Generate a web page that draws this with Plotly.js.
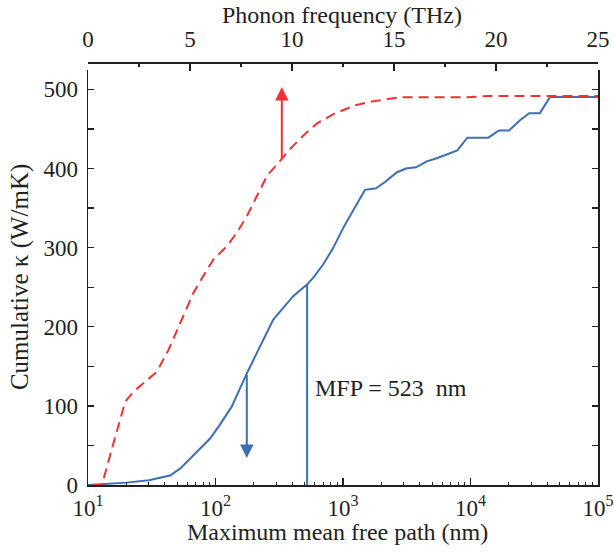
<!DOCTYPE html>
<html>
<head>
<meta charset="utf-8">
<script src="https://cdn.plot.ly/plotly-3.0.1.min.js"></script>
<style>html,body{margin:0;padding:0;background:#fff;}</style>
</head>
<body>
<div id="chart" style="width:614px;height:552px;"></div>
<script>
// Blue curve: cumulative kappa vs maximum mean free path (nm)
const mfpNm = [10, 20, 30, 44, 53, 71, 91, 108, 134, 176, 237, 284, 408, 519, 585, 701, 840, 1005, 1242, 1488, 1815, 2135, 2636, 3119, 3738, 4532, 5430, 6505, 7880, 9445, 13800, 16730, 20050, 24440, 28910, 35060, 42040, 100000];
const kappaMfp = [0, 3, 6, 12, 21, 42, 59, 76, 99, 141, 184, 209, 239, 253, 262, 279, 300, 325, 351, 373, 375, 383, 395, 400, 401.5, 409, 413, 418, 423, 439, 439, 448, 448, 461, 470, 470, 490.5, 490.5];

// Red dashed curve: cumulative kappa vs phonon frequency (THz)
const freqTHz = [0.25, 0.68, 1.24, 1.82, 2.23, 2.72, 3.37, 3.95, 4.52, 5.17, 5.83, 6.15, 6.81, 7.30, 7.79, 8.29, 8.78, 9.43, 9.92, 10.57, 11.23, 12.05, 13.1, 14.0, 15.3, 18.6, 19.6, 25];
const kappaFreq = [0, 0, 52, 105, 118, 129, 143, 171, 205, 243, 272, 285, 302, 319, 340, 365, 391, 410, 425, 442, 457, 469, 480, 485, 490, 490, 491.6, 491.6];

// Marker line at the characteristic MFP
const mfpMark = 523;
const mfpMarkKappa = [0, 254];
const mfpLabel = 'MFP = 523\u00a0 nm';
const mfpLabelKappa = 123;

// Arrows: x, tail kappa, tip kappa
const redArrow = {freq: 9.5, from: 410, to: 503};
const blueArrow = {mfp: 176, from: 141, to: 34};

// Tick labels
const mfpTickVals = [10, 100, 1000, 10000, 100000];
const mfpTickText = ['10<sup>1</sup>', '10<sup>2</sup>', '10<sup>3</sup>', '10<sup>4</sup>', '10<sup>5</sup>'];
const kappaTickVals = [0, 100, 200, 300, 400, 500];
const freqTickVals = [0, 5, 10, 15, 20, 25];

const mfpMinor = [];
for (let d = 10; d < 100000; d *= 10) { for (let k = 2; k <= 9; k++) mfpMinor.push(d * k); }

const BLUE = '#3b6fb8';
const RED = '#ee3333';
const AX = '#231f20';
const FONT = 'Liberation Serif';

const traces = [
  {x: freqTHz, y: kappaFreq, xaxis: 'x2', yaxis: 'y', mode: 'lines',
   line: {color: RED, width: 2, dash: '10px,6px'}, hoverinfo: 'skip'},
  {x: mfpNm, y: kappaMfp, xaxis: 'x', yaxis: 'y', mode: 'lines',
   line: {color: BLUE, width: 2}, hoverinfo: 'skip'},
  {x: [mfpMark, mfpMark], y: mfpMarkKappa, xaxis: 'x', yaxis: 'y', mode: 'lines',
   line: {color: BLUE, width: 2}, hoverinfo: 'skip'}
];

const yTop = 0.982;
const layout = {
  width: 614, height: 552,
  margin: {l: 88, r: 16, t: 62, b: 67, pad: 0},
  paper_bgcolor: '#ffffff', plot_bgcolor: '#ffffff',
  showlegend: false,
  font: {family: FONT, size: 23, color: AX},
  xaxis: {
    type: 'log', range: [1, 5], domain: [0, 1], anchor: 'y', side: 'bottom',
    showline: true, linecolor: AX, linewidth: 1.5, mirror: false,
    ticks: 'inside', ticklen: 7, tickwidth: 1.3, tickcolor: AX,
    tickmode: 'array', tickvals: mfpTickVals, ticktext: mfpTickText,
    tickfont: {family: FONT, size: 23, color: AX}, ticklabelstandoff: 2,
    minor: {tickmode: 'array', tickvals: mfpMinor, ticks: 'inside', ticklen: 3.5, tickwidth: 1.2, tickcolor: AX, showgrid: false},
    showgrid: false, zeroline: false
  },
  xaxis2: {
    overlaying: 'x', side: 'top', anchor: 'free', position: 1,
    range: [0, 25], tickmode: 'array', tickvals: freqTickVals,
    showline: true, linecolor: AX, linewidth: 1.5,
    ticks: 'inside', ticklen: 7, tickwidth: 1.3, tickcolor: AX,
    tickfont: {family: FONT, size: 23, color: AX}, ticklabelstandoff: 6,
    minor: {dtick: 2.5, ticks: 'inside', ticklen: 3.5, tickwidth: 1.2, tickcolor: AX, showgrid: false},
    showgrid: false, zeroline: false
  },
  yaxis: {
    range: [0, 525], domain: [0, yTop], anchor: 'x',
    showline: true, linecolor: AX, linewidth: 1.5, mirror: 'ticks',
    ticks: 'inside', ticklen: 6, tickwidth: 1.3, tickcolor: AX,
    tickmode: 'array', tickvals: kappaTickVals,
    tickfont: {family: FONT, size: 23, color: AX}, ticklabelstandoff: 4,
    minor: {dtick: 50, ticks: 'inside', ticklen: 6, tickwidth: 1.3, tickcolor: AX, showgrid: false},
    showgrid: false, zeroline: false
  },
  annotations: [
    {xref: 'paper', yref: 'paper', x: 0.49, y: -0.112, text: 'Maximum mean free path (nm)',
     showarrow: false, xanchor: 'center', yanchor: 'middle', font: {family: FONT, size: 24, color: AX}},
    {xref: 'paper', yref: 'paper', x: 0.498, y: 1.145, text: 'Phonon frequency (THz)', borderpad: 0,
     showarrow: false, xanchor: 'center', yanchor: 'top', font: {family: FONT, size: 24, color: AX}},
    {xref: 'paper', yref: 'paper', x: -0.133, y: 0.492, text: 'Cumulative \u03ba (W/mK)', textangle: -90,
     showarrow: false, xanchor: 'center', yanchor: 'middle', font: {family: FONT, size: 25, color: AX}},
    {xref: 'x', yref: 'y', x: Math.log10(mfpMark), y: mfpLabelKappa, xshift: 6, text: mfpLabel,
     showarrow: false, xanchor: 'left', yanchor: 'middle', font: {family: FONT, size: 24, color: AX}},
    {xref: 'x2', yref: 'y', x: redArrow.freq, y: redArrow.to, axref: 'x2', ayref: 'y',
     ax: redArrow.freq, ay: redArrow.from, text: '', showarrow: true,
     arrowhead: 2, arrowsize: 1.35, arrowwidth: 2, arrowcolor: RED},
    {xref: 'x', yref: 'y', x: Math.log10(blueArrow.mfp), y: blueArrow.to, axref: 'x', ayref: 'y',
     ax: Math.log10(blueArrow.mfp), ay: blueArrow.from, text: '', showarrow: true,
     arrowhead: 2, arrowsize: 1.35, arrowwidth: 2, arrowcolor: BLUE}
  ]
};

Plotly.newPlot('chart', traces, layout, {displayModeBar: false, staticPlot: true});
</script>
</body>
</html>
